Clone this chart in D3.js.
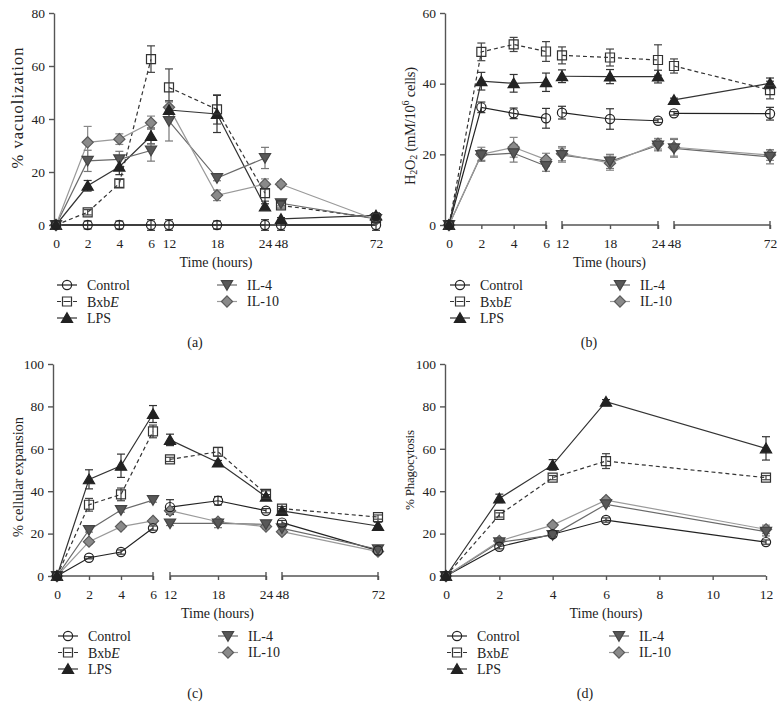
<!DOCTYPE html>
<html><head><meta charset="utf-8">
<script src="https://cdn.jsdelivr.net/npm/d3@7"></script>
<style>body{margin:0;background:#fff}</style>
</head><body><svg id="c" width="784" height="718" style="background:#fff"></svg>
<script>
// ---------------- DATA ----------------
const seriesNames = ["Control", "BxbE", "LPS", "IL-4", "IL-10"];
const timesLong = [0, 2, 4, 6, 12, 18, 24, 48, 72];
const timesShort = [0, 2, 4, 6, 12];
const brokenSegments = [[0, 6], [12, 24], [48, 72]];
const brokenTicks = [[0, 2, 4, 6], [12, 18, 24], [48, 72]];
const shortTicks = [0, 2, 4, 6, 8, 10, 12];
const yTicksVac = [0, 20, 40, 60, 80];
const yTicksH2O2 = [0, 20, 40, 60];
const yTicksPct = [0, 20, 40, 60, 80, 100];

// (a) % vacuolization
const vacControl = [0, 0, 0, 0, 0, 0, 0, 0, 0];
const vacControlErr = [0, 1.5, 1.5, 2, 2, 1.5, 2, 2, 2];
const vacBxbE = [0, 4.8, 15.7, 62.6, 51.9, 43.6, 12, 7.4, 2.6];
const vacBxbEErr = [0, 1, 1.5, 5, 7, 5.5, 3, 1, 1];
const vacLPS = [0, 14.8, 22, 33.6, 43.4, 41.9, 7, 2.3, 3.6];
const vacLPSErr = [0, 2, 3, 3, 3.5, 7, 1, 0.5, 1];
const vacIL4 = [0, 24.2, 24.8, 28.1, 39.2, 17.7, 25.3, 8.2, 2.3];
const vacIL4Err = [0, 4, 3, 4, 7.5, 1, 4, 1, 0.5];
const vacIL10 = [0, 31.2, 32.4, 38.6, 44.4, 11.2, 15.4, 15.4, 2];
const vacIL10Err = [0, 6, 2, 2.5, 2, 2, 2, 1, 0.5];

// (b) H2O2
const h2o2Control = [0, 33.3, 31.6, 30.2, 31.8, 30, 29.5, 31.6, 31.5];
const h2o2ControlErr = [0, 1.5, 1.5, 2.8, 1.8, 2.9, 0.5, 0.5, 1.8];
const h2o2BxbE = [0, 49, 51.1, 49.1, 48, 47.4, 46.7, 45, 38.2];
const h2o2BxbEErr = [0, 2.5, 2, 2.8, 2.4, 2.4, 4.3, 2, 2.5];
const h2o2LPS = [0, 40.7, 40.1, 40.4, 42.1, 42, 42, 35.4, 40.1];
const h2o2LPSErr = [0, 2.5, 2.5, 2.6, 1.8, 2, 1.8, 0.5, 1.5];
const h2o2IL4 = [0, 19.8, 20.3, 16.7, 19.8, 18, 22.5, 21.7, 19.3];
const h2o2IL4Err = [0, 1.5, 2.5, 1.5, 2, 2, 1.5, 2.5, 2];
const h2o2IL10 = [0, 20, 22, 18.5, 20.2, 17.5, 23, 22, 19.8];
const h2o2IL10Err = [0, 2, 2.8, 1.8, 2, 2, 1.5, 2.5, 1.5];

// (c) % cellular expansion
const expControl = [0, 8.6, 11.3, 22.6, 32.5, 35.5, 30.8, 25.2, 12];
const expControlErr = [0, 0.5, 1, 1, 3.5, 2, 1, 1, 1];
const expBxbE = [0, 33.6, 38.5, 68.2, 55, 58.6, 38.7, 31.8, 27.8];
const expBxbEErr = [0, 3, 3, 3, 1, 2, 1.5, 1, 1];
const expLPS = [0, 45.6, 52, 76.4, 64.2, 53.5, 37.4, 30.7, 23.6];
const expLPSErr = [0, 4.5, 5.5, 4, 2.7, 1, 1, 1, 1.8];
const expIL4 = [0, 21.7, 31.1, 35.8, 24.8, 24.8, 24.4, 22.5, 12.6];
const expIL4Err = [0, 1, 1, 1, 1, 2, 1, 1, 1];
const expIL10 = [0, 16.2, 23.3, 26, 30.8, 25.6, 23.3, 20.9, 11.5];
const expIL10Err = [0, 1, 1, 1, 1, 1, 1, 1, 1];

// (d) % phagocytosis
const phaControl = [0, 13.8, 19.7, 26.4, 16];
const phaControlErr = [0, 1, 1, 1, 1];
const phaBxbE = [0, 28.8, 46.4, 54.2, 46.4];
const phaBxbEErr = [0, 1, 1, 3.5, 1];
const phaLPS = [0, 36.6, 52.4, 82.2, 60.2];
const phaLPSErr = [0, 2, 2.5, 1, 5.5];
const phaIL4 = [0, 15.9, 19.3, 33.8, 20.9];
const phaIL4Err = [0, 1, 1, 1, 2];
const phaIL10 = [0, 16.5, 24, 35.8, 22];
const phaIL10Err = [0, 1, 1, 1, 2];

// ---------------- STYLE ----------------
const FONT = "'Liberation Serif','Times New Roman',serif";
const styles = [
  {shape: "circle", fill: "none", stroke: "#222", line: "#222", dash: null, err: "#333"},
  {shape: "square", fill: "none", stroke: "#333", line: "#333", dash: "4,3", err: "#444"},
  {shape: "tri", fill: "#222", stroke: "#222", line: "#333", dash: null, err: "#333"},
  {shape: "tridown", fill: "#585858", stroke: "#444", line: "#6a6a6a", dash: null, err: "#777"},
  {shape: "diamond", fill: "#8a8a8a", stroke: "#5a5a5a", line: "#9a9a9a", dash: null, err: "#888"}
];

function markerPath(shape) {
  if (shape === "circle") return d3.symbol().type(d3.symbolCircle).size(Math.PI * 4.6 * 4.6)();
  if (shape === "square") return "M-4.5,-4.5H4.5V4.5H-4.5Z";
  if (shape === "tri") return "M0,-5.2L5.6,4.4L-5.6,4.4Z";
  if (shape === "tridown") return "M0,5.2L5.6,-4.4L-5.6,-4.4Z";
  if (shape === "diamond") return "M0,-5.6L5.6,0L0,5.6L-5.6,0Z";
}

const svg = d3.select("#c");
const fmt = d3.format("d");

function styleText(sel, size) {
  sel.attr("font-family", FONT).attr("font-size", size).attr("fill", "#222");
}

function drawPanel(p) {
  const g = svg.append("g");
  const y = d3.scaleLinear().domain([0, p.yMax]).range([p.yBottom, p.yTop]);
  let xf, segIdx, segScales;
  if (p.segRanges) {
    segScales = brokenSegments.map((d, i) => d3.scaleLinear().domain(d).range(p.segRanges[i]));
    segIdx = t => brokenSegments.findIndex(d => t >= d[0] && t <= d[1]);
    xf = t => segScales[segIdx(t)](t);
  } else {
    const s = d3.scaleLinear().domain([0, 12]).range(p.xRange);
    segIdx = () => 0;
    xf = s;
  }

  // Y axis
  const ya = g.append("g").attr("transform", `translate(${p.yAxisX},0)`)
    .call(d3.axisLeft(y).tickValues(p.yTicks).tickFormat(fmt).tickSize(5).tickSizeOuter(0).tickPadding(4));
  ya.selectAll("path,line").attr("stroke", "#555").attr("stroke-width", 1.4);
  ya.selectAll("text").attr("font-family", FONT).attr("font-size", 13.5).attr("fill", "#222");

  // X axis
  if (p.segRanges) {
    segScales.forEach((s, i) => {
      const xa = g.append("g").attr("transform", `translate(0,${p.yBottom})`)
        .call(d3.axisBottom(s).tickValues(brokenTicks[i]).tickFormat(fmt)
          .tickSize(p.axisMode === "flat" ? 0 : 4)
          .tickSizeOuter(0).tickPadding(p.axisMode === "flat" ? 13 : 9));
      xa.select("path.domain").remove();
      xa.selectAll("line").attr("stroke", "#555").attr("stroke-width", 1.4);
      xa.selectAll("text").attr("font-family", FONT).attr("font-size", 13.5).attr("fill", "#222");
      if (p.axisMode !== "flat") {
        const r = s.range();
        const x0 = i === 0 ? p.yAxisX : r[0];
        g.append("line").attr("x1", x0).attr("x2", r[1]).attr("y1", p.yBottom).attr("y2", p.yBottom)
          .attr("stroke", "#555").attr("stroke-width", 1.4);
        const ends = i === 0 ? [r[1]] : [r[0], r[1]];
        ends.forEach(e => g.append("line").attr("x1", e).attr("x2", e)
          .attr("y1", p.yBottom - 4).attr("y2", p.yBottom + 4)
          .attr("stroke", "#555").attr("stroke-width", 1.4));
      }
    });
    if (p.axisMode === "flat") {
      g.append("line").attr("x1", p.yAxisX).attr("x2", p.segRanges[2][1])
        .attr("y1", p.yBottom).attr("y2", p.yBottom).attr("stroke", "#222").attr("stroke-width", 1.4);
    }
  } else {
    const xa = g.append("g").attr("transform", `translate(0,${p.yBottom})`)
      .call(d3.axisBottom(xf).tickValues(shortTicks).tickFormat(fmt).tickSize(4).tickSizeOuter(0).tickPadding(9));
    xa.select("path.domain").remove();
    xa.selectAll("line").attr("stroke", "#555").attr("stroke-width", 1.4);
    xa.selectAll("text").attr("font-family", FONT).attr("font-size", 13.5).attr("fill", "#222");
    g.append("line").attr("x1", p.yAxisX).attr("x2", p.xRange[1]).attr("y1", p.yBottom).attr("y2", p.yBottom)
      .attr("stroke", "#555").attr("stroke-width", 1.4);
  }

  // X label
  const xr = p.segRanges ? [p.segRanges[0][0], p.segRanges[2][1]] : p.xRange;
  g.append("text").attr("x", (xr[0] + xr[1]) / 2).attr("y", p.yBottom + 37)
    .attr("text-anchor", "middle").attr("dominant-baseline", "central").text("Time (hours)")
    .call(styleText, 14);

  // Y label
  const yl = g.append("text").attr("transform", `translate(${p.yLabelX},${p.yLabelY}) rotate(-90)`)
    .attr("text-anchor", "middle").attr("dominant-baseline", "central")
    .attr("textLength", p.yLabelLen).attr("lengthAdjust", "spacing").call(styleText, p.yLabelSize);
  p.yLabel(yl);

  // Series
  const line = d3.line().x(d => xf(d.t)).y(d => y(d.v));
  const series = p.values.map((vals, si) => p.times.map((t, i) => ({t, v: vals[i], e: p.errors[si][i]})));

  series.forEach((pts, si) => {
    const st = styles[si];
    const groups = d3.groups(pts, d => segIdx(d.t)).map(d => d[1]);
    groups.forEach(gp => {
      g.append("path").attr("d", line(gp)).attr("fill", "none").attr("stroke", st.line)
        .attr("stroke-width", 1.2).attr("stroke-dasharray", st.dash);
    });
  });
  series.forEach((pts, si) => {
    const st = styles[si];
    pts.filter(d => d.e > 0).forEach(d => {
      const cx = xf(d.t), y1 = y(d.v - d.e), y2 = y(d.v + d.e);
      g.append("line").attr("x1", cx).attr("x2", cx).attr("y1", y1).attr("y2", y2)
        .attr("stroke", st.err).attr("stroke-width", 1.2);
      [y1, y2].forEach(yy => g.append("line").attr("x1", cx - 4).attr("x2", cx + 4)
        .attr("y1", yy).attr("y2", yy).attr("stroke", st.err).attr("stroke-width", 1.2));
    });
  });
  [4, 3, 2, 1, 0].forEach(si => {
    const st = styles[si];
    series[si].forEach(d => {
      g.append("path").attr("d", markerPath(st.shape))
        .attr("transform", `translate(${xf(d.t)},${y(d.v)})`)
        .attr("fill", st.fill).attr("stroke", st.stroke).attr("stroke-width", 1.2);
    });
  });

  // Legend
  const rows = [0, 1, 2].map(i => p.legendY + i * 16.5);
  const pos = [[p.legX1, rows[0]], [p.legX1, rows[1]], [p.legX1, rows[2]], [p.legX2, rows[0]], [p.legX2, rows[1]]];
  seriesNames.forEach((name, si) => {
    const st = styles[si];
    const [lx, ly] = pos[si];
    g.append("line").attr("x1", lx - 10).attr("x2", lx + 10).attr("y1", ly).attr("y2", ly)
      .attr("stroke", st.line).attr("stroke-width", 1.2)
      .attr("stroke-dasharray", si === 1 ? "4,2.5,7,2.5,4" : null);
    g.append("path").attr("d", markerPath(st.shape)).attr("transform", `translate(${lx},${ly})`)
      .attr("fill", st.fill).attr("stroke", st.stroke).attr("stroke-width", 1.2);
    const t = g.append("text").attr("x", lx + 20).attr("y", ly).attr("dominant-baseline", "central")
      .call(styleText, 14);
    if (name === "BxbE") {
      t.append("tspan").text("Bxb");
      t.append("tspan").attr("font-style", "italic").text("E");
    } else t.text(name);
  });

  g.append("text").attr("x", p.capX).attr("y", p.capY).attr("text-anchor", "middle")
    .attr("dominant-baseline", "central").text(p.caption).call(styleText, 14);
}

// ---------------- PANELS ----------------
drawPanel({
  caption: "(a)", capX: 195, capY: 342,
  yAxisX: 54, yBottom: 225, yTop: 13, yMax: 80, yTicks: yTicksVac,
  segRanges: [[56, 151], [169, 265], [281, 376]], axisMode: "flat",
  times: timesLong,
  values: [vacControl, vacBxbE, vacLPS, vacIL4, vacIL10],
  errors: [vacControlErr, vacBxbEErr, vacLPSErr, vacIL4Err, vacIL10Err],
  yLabelX: 17, yLabelY: 108, yLabelLen: 121, yLabelSize: 16.5,
  yLabel: t => t.text("% vacuolization"),
  legendY: 285, legX1: 67, legX2: 227
});
drawPanel({
  caption: "(b)", capX: 589, capY: 342,
  yAxisX: 445, yBottom: 225, yTop: 13, yMax: 60, yTicks: yTicksH2O2,
  segRanges: [[449, 546], [562, 658], [674, 770]], axisMode: "broken",
  times: timesLong,
  values: [h2o2Control, h2o2BxbE, h2o2LPS, h2o2IL4, h2o2IL10],
  errors: [h2o2ControlErr, h2o2BxbEErr, h2o2LPSErr, h2o2IL4Err, h2o2IL10Err],
  yLabelX: 410, yLabelY: 126, yLabelLen: 118, yLabelSize: 14.5,
  yLabel: t => {
    t.append("tspan").text("H");
    t.append("tspan").attr("font-size", 10).attr("dy", 3).text("2");
    t.append("tspan").attr("dy", -3).text("O");
    t.append("tspan").attr("font-size", 10).attr("dy", 3).text("2");
    t.append("tspan").attr("dy", -3).text(" (mM/10");
    t.append("tspan").attr("font-size", 10).attr("dy", -5).text("6");
    t.append("tspan").attr("dy", 5).text(" cells)");
  },
  legendY: 285, legX1: 460, legX2: 620
});
drawPanel({
  caption: "(c)", capX: 195, capY: 693,
  yAxisX: 53, yBottom: 576, yTop: 364, yMax: 100, yTicks: yTicksPct,
  segRanges: [[57, 153], [170, 266], [282, 378]], axisMode: "broken",
  times: timesLong,
  values: [expControl, expBxbE, expLPS, expIL4, expIL10],
  errors: [expControlErr, expBxbEErr, expLPSErr, expIL4Err, expIL10Err],
  yLabelX: 18, yLabelY: 477, yLabelLen: 120, yLabelSize: 14.5,
  yLabel: t => t.text("% cellular expansion"),
  legendY: 636, legX1: 68, legX2: 228
});
drawPanel({
  caption: "(d)", capX: 585, capY: 693,
  yAxisX: 445, yBottom: 576, yTop: 364, yMax: 100, yTicks: yTicksPct,
  xRange: [446, 766], axisMode: "plain",
  times: timesShort,
  values: [phaControl, phaBxbE, phaLPS, phaIL4, phaIL10],
  errors: [phaControlErr, phaBxbEErr, phaLPSErr, phaIL4Err, phaIL10Err],
  yLabelX: 409, yLabelY: 470, yLabelLen: 80, yLabelSize: 13,
  yLabel: t => t.text("% Phagocytosis"),
  legendY: 636, legX1: 457, legX2: 619
});
</script>
</body></html>
